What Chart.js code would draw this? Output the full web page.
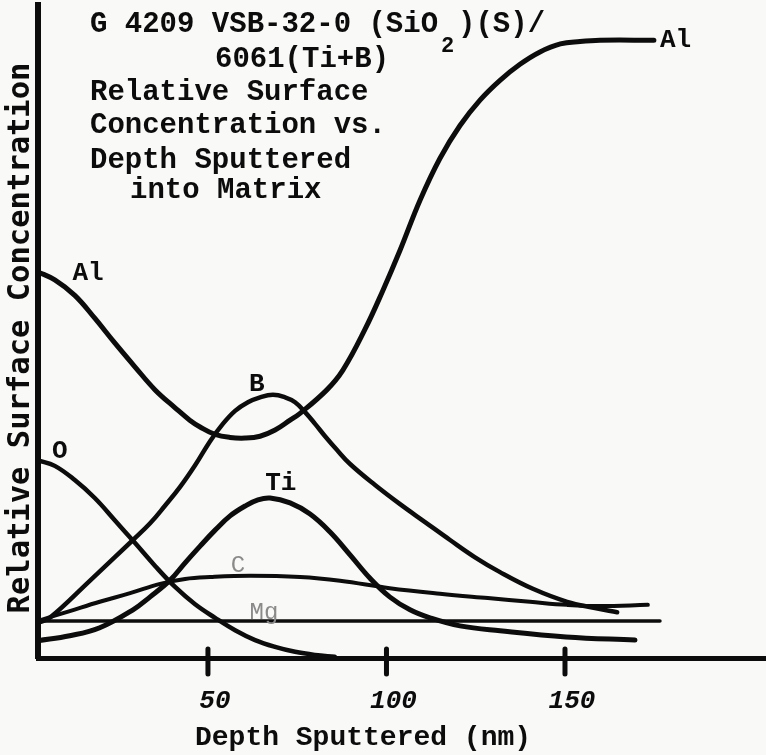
<!DOCTYPE html>
<html>
<head>
<meta charset="utf-8">
<script src="https://cdn.jsdelivr.net/npm/chart.js@4.4.1/dist/chart.umd.min.js"></script>
<style>
  body { margin: 0; background: #f9f9f7; }
  #wrap { width: 766px; height: 755px; position: relative; }
</style>
</head>
<body>
<div id="wrap"><canvas id="myChart"></canvas></div>
<script>
// depth (nm) vs relative surface concentration
var alDepth = [2.4, 7.1, 12.7, 18.3, 23.9, 29.6, 35.2, 40.8, 44.9, 47.8, 52.0, 56.2, 60.4, 64.6, 68.8, 73.0, 75.8, 83.3, 87.8, 93.9, 99.0, 103.8, 109.4, 115.0, 120.6, 126.2, 131.8, 137.4, 143.0, 148.7, 154.2, 159.8, 174.9];
var alConc = [62.5, 61.2, 58.7, 55.0, 51.0, 47.1, 43.4, 40.5, 38.5, 37.4, 36.2, 35.7, 35.6, 35.9, 36.9, 38.5, 39.6, 43.4, 46.6, 53.1, 59.5, 66.0, 74.1, 80.9, 86.2, 90.3, 93.5, 96.1, 98.1, 99.4, 99.8, 100, 100];

var bDepth = [2.9, 5.7, 16.9, 29.0, 33.8, 37.9, 42.2, 46.4, 50.6, 53.9, 57.6, 61.2, 64.6, 68.2, 71.6, 74.4, 77.2, 80.0, 82.8, 86.1, 89.8, 96.8, 103.8, 110.8, 117.8, 124.8, 131.8, 141.0, 150.6, 158.4, 164.6];
var bConc = [5.8, 6.5, 12.5, 19.1, 21.8, 24.6, 27.7, 31.2, 35.1, 37.7, 40.0, 41.4, 42.2, 42.6, 42.2, 41.4, 39.8, 37.9, 35.9, 33.7, 31.4, 28.0, 24.9, 22.0, 19.1, 16.3, 13.9, 11.2, 9.1, 8.1, 7.4];

var oDepth = [2.4, 7.1, 12.7, 18.3, 23.9, 29.6, 35.2, 40.8, 46.4, 52.0, 57.6, 63.2, 68.8, 74.4, 80.0, 85.5];
var oConc = [32.0, 31.1, 28.8, 25.9, 22.3, 18.6, 14.9, 11.5, 8.7, 6.5, 4.5, 2.9, 1.8, 1.0, 0.5, 0.2];

var tiDepth = [2.4, 11.3, 19.7, 29.0, 33.8, 39.4, 43.6, 47.8, 52.0, 56.2, 60.4, 64.0, 67.4, 73.0, 78.6, 84.2, 89.8, 95.4, 100.9, 106.6, 112.2, 120.6, 131.8, 150.3, 169.6];
var tiConc = [2.8, 3.6, 4.9, 7.8, 9.9, 12.6, 15.4, 18.1, 20.7, 23.0, 24.6, 25.6, 25.9, 25.1, 23.3, 20.4, 16.7, 12.9, 9.9, 7.8, 6.5, 5.2, 4.4, 3.4, 2.9];

var cDepth = [2.9, 11.3, 19.7, 28.2, 36.6, 43.6, 50.6, 61.8, 75.8, 87.0, 100.9, 115.0, 128.4, 140.2, 150.6, 159.8, 173.2];
var cConc = [6.1, 7.6, 9.1, 10.5, 12.0, 12.8, 13.1, 13.3, 13.1, 12.5, 11.3, 10.4, 9.7, 9.1, 8.6, 8.4, 8.6];

var mgDepth = [2.4, 176.6];
var mgConc = [6.0, 6.0];

var xTicks = [50, 100, 150];

var ink = "#0c0c0c";

function pts(xs, ys) {
  return xs.map(function (v, i) { return { x: v, y: ys[i] }; });
}

function line(name, xs, ys, w) {
  return {
    label: name,
    data: pts(xs, ys),
    borderColor: ink,
    borderWidth: w,
    pointRadius: 0,
    fill: false,
    tension: 0.4,
    borderCapStyle: "round",
    borderJoinStyle: "round"
  };
}

// text drawn on top: title block, curve names, axis titles, tick marks
var overlay = {
  id: "overlay",
  afterDraw: function (chart) {
    var ctx = chart.ctx;
    var x = chart.scales.x;
    var y = chart.scales.y;
    ctx.save();

    // tick marks crossing the x axis
    ctx.strokeStyle = ink;
    ctx.lineWidth = 5;
    ctx.lineCap = "round";
    xTicks.forEach(function (v) {
      var px = x.getPixelForValue(v);
      ctx.beginPath();
      ctx.moveTo(px, y.bottom - 9);
      ctx.lineTo(px, y.bottom + 16);
      ctx.stroke();
    });

    ctx.fillStyle = ink;
    ctx.textBaseline = "alphabetic";
    ctx.textAlign = "left";

    // title block
    ctx.font = 'bold 29px "Liberation Mono"';
    var first = "G 4209 VSB-32-0 (SiO";
    ctx.fillText(first, 90, 32);
    var w1 = ctx.measureText(first).width;
    ctx.font = 'bold 22px "Liberation Mono"';
    ctx.fillText("2", 93 + w1, 52);
    ctx.font = 'bold 29px "Liberation Mono"';
    ctx.fillText(")(S)/", 90 + w1 + 20, 32);
    ctx.fillText("6061(Ti+B)", 215, 67);
    ctx.fillText("Relative Surface", 90, 100);
    ctx.fillText("Concentration vs.", 90, 133);
    ctx.fillText("Depth Sputtered", 90, 168);
    ctx.fillText("into Matrix", 130, 198);

    // curve names
    ctx.textBaseline = "middle";
    ctx.textAlign = "center";
    ctx.font = 'bold 26px "Liberation Mono"';
    ctx.fillText("Al", x.getPixelForValue(16.4), y.getPixelForValue(62.3));
    ctx.fillText("O", x.getPixelForValue(8.5), y.getPixelForValue(33.5));
    ctx.fillText("B", x.getPixelForValue(63.7), y.getPixelForValue(44.2));
    ctx.fillText("Ti", x.getPixelForValue(70.4), y.getPixelForValue(28.3));
    ctx.textAlign = "left";
    ctx.fillText("Al", x.getPixelForValue(176.6), y.getPixelForValue(100));
    ctx.textAlign = "center";
    ctx.fillStyle = "#8a8a8a";
    ctx.font = '24px "Liberation Mono"';
    ctx.fillText("C", x.getPixelForValue(58.4), y.getPixelForValue(14.9));
    ctx.fillText("Mg", x.getPixelForValue(65.7), y.getPixelForValue(7.4));

    // x axis title
    ctx.fillStyle = ink;
    ctx.textAlign = "left";
    ctx.textBaseline = "alphabetic";
    ctx.font = 'bold 28px "Liberation Mono"';
    ctx.fillText("Depth Sputtered (nm)", 195, 745);

    // y axis title
    ctx.translate(21, 338);
    ctx.rotate(-Math.PI / 2);
    ctx.textAlign = "center";
    ctx.textBaseline = "middle";
    ctx.font = 'bold 30.5px "DejaVu Sans Mono"';
    ctx.fillText("Relative Surface Concentration", 0, 0);

    ctx.restore();
  }
};

new Chart(document.getElementById("myChart"), {
  type: "line",
  data: {
    datasets: [
      line("Al", alDepth, alConc, 5),
      line("B", bDepth, bConc, 4.5),
      line("O", oDepth, oConc, 4.5),
      line("Ti", tiDepth, tiConc, 5),
      line("C", cDepth, cConc, 4),
      line("Mg", mgDepth, mgConc, 3.5)
    ]
  },
  options: {
    responsive: true,
    maintainAspectRatio: false,
    animation: false,
    layout: { padding: { left: 38, top: 5, right: 0, bottom: 0 } },
    plugins: { legend: { display: false }, tooltip: { enabled: false } },
    scales: {
      x: {
        type: "linear",
        min: 2.4,
        max: 206.3,
        afterFit: function (s) { s.height = 97; },
        afterBuildTicks: function (s) {
          s.ticks = xTicks.map(function (v) { return { value: v }; });
        },
        grid: { display: false, drawTicks: false },
        border: { display: true, color: ink, width: 5 },
        ticks: {
          color: ink,
          font: { family: "Liberation Mono", size: 26, style: "italic", weight: "bold" },
          padding: 28,
          labelOffset: 7,
          maxRotation: 0,
          autoSkip: false
        }
      },
      y: {
        type: "linear",
        min: 0,
        max: 105.7,
        afterFit: function (s) { s.width = 0; },
        grid: { display: false, drawTicks: false },
        border: { display: true, color: ink, width: 6 },
        ticks: { display: false }
      }
    }
  },
  plugins: [overlay]
});
</script>
</body>
</html>
